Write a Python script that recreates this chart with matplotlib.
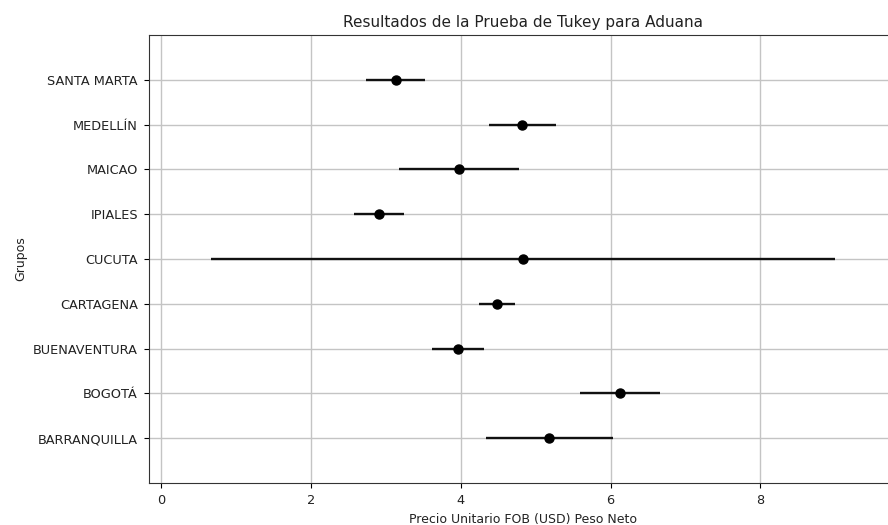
import matplotlib
matplotlib.use("Agg")
import matplotlib.pyplot as plt
import numpy as np

groups = ["BARRANQUILLA", "BOGOTÁ", "BUENAVENTURA", "CARTAGENA", "CUCUTA",
          "IPIALES", "MAICAO", "MEDELLÍN", "SANTA MARTA"]
means = [5.18, 6.12, 3.96, 4.48, 4.83, 2.91, 3.98, 4.82, 3.13]
halfwidths = [0.845, 0.535, 0.345, 0.24, 4.16, 0.33, 0.80, 0.445, 0.395]

W, H = 888, 525
fig = plt.figure(figsize=(W / 100, H / 100), dpi=100)
left, right, top, bottom = 149, 897, 35, 483
ax = fig.add_axes([left / W, 1 - bottom / H, (right - left) / W, (bottom - top) / H])

y = np.arange(len(groups))
ax.errorbar(means, y, xerr=halfwidths, marker="o", linestyle="None",
            color="k", ecolor="#111111", markersize=6.5, elinewidth=1.7)

lower = np.array(means) - np.array(halfwidths)
upper = np.array(means) + np.array(halfwidths)
r = upper.max() - lower.min()
ax.set_xlim(lower.min() - r / 10, upper.max() + r / 10)
ax.set_ylim(-1, len(groups))
ax.set_yticks(y)
ax.set_yticklabels(groups)
ax.set_xticks([0, 2, 4, 6, 8])
ax.grid(True, color="#c4c4c4", linewidth=1.0)
ax.set_axisbelow(True)
for s in ax.spines.values():
    s.set_color("#333333")

ax.set_title("Resultados de la Prueba de Tukey para Aduana", fontsize=11, color="#222222")
ax.set_xlabel("Precio Unitario FOB (USD) Peso Neto", fontsize=9, color="#222222")
ax.set_ylabel("Grupos", fontsize=9, color="#222222")
ax.tick_params(labelsize=9.3, labelcolor="#222222", length=3.5, pad=4.5)

fig.savefig("out.png", dpi=100)
